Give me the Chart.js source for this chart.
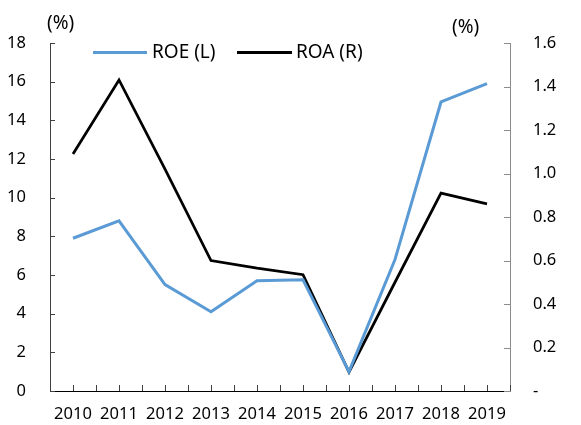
<!DOCTYPE html>
<html lang="en">
<head>
    <meta charset="UTF-8">
    <title>ROE / ROA</title>
    <script src="https://cdn.jsdelivr.net/npm/chart.js"></script>
    <style>
        body {
            margin: 0;
            background: #fff;
            font-family: 'Noto Sans', sans-serif;
            color: #000;
        }
        #wrap {
            position: relative;
            width: 581px;
            height: 425px;
        }
        .txt {
            position: absolute;
            line-height: 1;
            white-space: nowrap;
        }
        .swatch {
            position: absolute;
            height: 3px;
        }
    </style>
</head>
<body>
    <div id="wrap">
        <canvas id="chart"></canvas>
        <div class="txt" style="left:47px; top:13px; font-size:19px;">(%)</div>
        <div class="txt" style="left:452px; top:17px; font-size:19px;">(%)</div>
        <div class="swatch" style="left:93px; top:51px; width:54px; background:#5b9bd5;"></div>
        <div class="txt" style="left:152px; top:42px; font-size:19px;">ROE (L)</div>
        <div class="swatch" style="left:237px; top:51px; width:55px; background:#000;"></div>
        <div class="txt" style="left:296px; top:42px; font-size:19px;">ROA (R)</div>
    </div>
    <script>
        const years = ['2010', '2011', '2012', '2013', '2014', '2015', '2016', '2017', '2018', '2019'];
        const roe = [7.9, 8.8, 5.5, 4.1, 5.7, 5.75, 1.0, 6.8, 14.95, 15.9];
        const roa = [1.09, 1.43, 1.02, 0.60, 0.565, 0.535, 0.087, 0.50, 0.91, 0.86];

        const font = { family: "'Noto Sans', sans-serif", size: 16.5 };

        // short tick marks pointing into the plot, like the original
        const innerTicks = {
            id: 'innerTicks',
            beforeDatasetsDraw(chart) {
                const c = chart.ctx;
                const area = chart.chartArea;
                const x = chart.scales.x;
                const yL = chart.scales.y;
                const yR = chart.scales.y1;
                c.save();
                c.lineWidth = 1;
                c.strokeStyle = '#404040';
                yL.ticks.forEach((t, i) => {
                    const py = Math.round(yL.getPixelForTick(i)) + 0.5;
                    c.beginPath();
                    c.moveTo(area.left, py);
                    c.lineTo(area.left + 5, py);
                    c.stroke();
                });
                c.strokeStyle = '#8c8c8c';
                yR.ticks.forEach((t, i) => {
                    const py = Math.round(yR.getPixelForTick(i)) + 0.5;
                    c.beginPath();
                    c.moveTo(area.right - 6, py);
                    c.lineTo(area.right, py);
                    c.stroke();
                });
                c.strokeStyle = '#404040';
                const half = (x.getPixelForValue(1) - x.getPixelForValue(0)) / 2;
                years.forEach((y, i) => {
                    const cx = x.getPixelForValue(i);
                    [cx, cx + half].forEach(px => {
                        const p = Math.round(px) + 0.5;
                        c.beginPath();
                        c.moveTo(p, area.bottom);
                        c.lineTo(p, area.bottom - 6);
                        c.stroke();
                    });
                });
                c.restore();
            }
        };

        new Chart(document.getElementById('chart'), {
            type: 'line',
            data: {
                labels: years,
                datasets: [
                    {
                        label: 'ROE (L)',
                        data: roe,
                        yAxisID: 'y',
                        borderColor: '#5b9bd5',
                        backgroundColor: '#5b9bd5',
                        borderWidth: 3,
                        pointRadius: 0,
                        tension: 0
                    },
                    {
                        label: 'ROA (R)',
                        data: roa,
                        yAxisID: 'y1',
                        borderColor: '#000',
                        backgroundColor: '#000',
                        borderWidth: 2.75,
                        pointRadius: 0,
                        tension: 0
                    }
                ]
            },
            options: {
                responsive: true,
                maintainAspectRatio: false,
                animation: false,
                layout: { padding: { left: 7, right: 24, top: 43, bottom: 0 } },
                plugins: {
                    legend: { display: false },
                    tooltip: { enabled: false }
                },
                scales: {
                    x: {
                        offset: true,
                        grid: { drawOnChartArea: false, drawTicks: false },
                        border: { color: '#000', width: 1 },
                        ticks: { color: '#000', font: font, padding: 13, maxRotation: 0, autoSkip: false },
                        afterFit: s => { s.height = 34; s.paddingLeft = 0; s.paddingRight = 0; }
                    },
                    y: {
                        position: 'left',
                        min: 0,
                        max: 18,
                        grid: { drawOnChartArea: false, drawTicks: false },
                        border: { color: '#404040', width: 1 },
                        ticks: { stepSize: 2, color: '#000', font: font, padding: 24 },
                        afterFit: s => { s.width = 43; }
                    },
                    y1: {
                        position: 'right',
                        min: 0,
                        max: 1.6,
                        grid: { drawOnChartArea: false, drawTicks: false },
                        border: { color: '#8c8c8c', width: 1 },
                        ticks: {
                            stepSize: 0.2,
                            color: '#000',
                            font: font,
                            padding: 23,
                            callback: v => (Math.abs(v) < 1e-9 ? '-' : Number(v).toFixed(1))
                        },
                        afterFit: s => { s.width = 47; }
                    }
                }
            },
            plugins: [innerTicks]
        });
    </script>
</body>
</html>
